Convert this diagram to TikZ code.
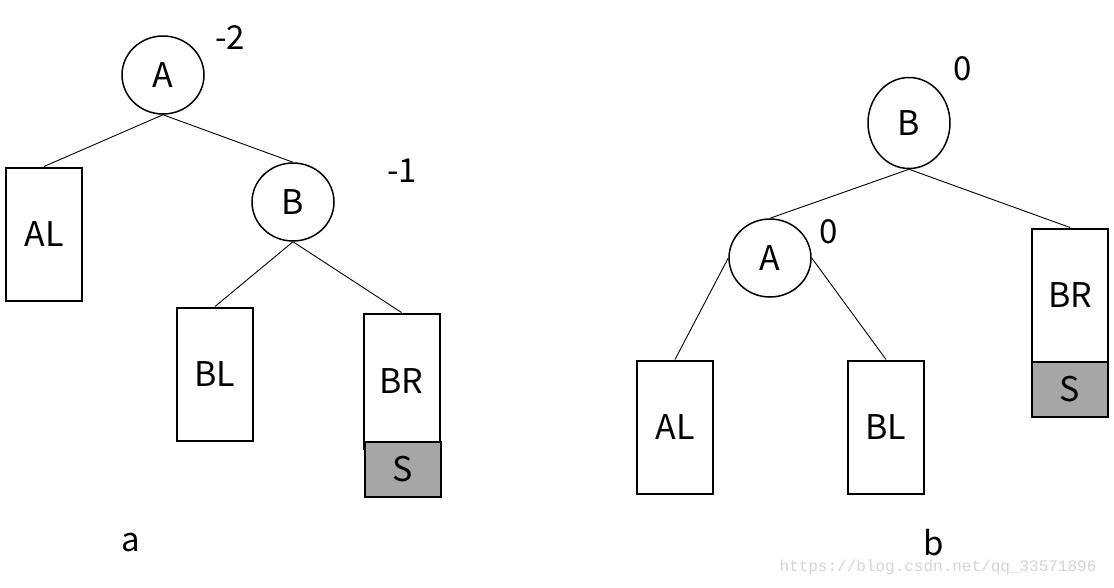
\documentclass[tikz,border=0pt]{standalone}
\usepackage{fontspec}
\setmainfont{Noto Sans CJK SC}
\setmonofont{Liberation Mono}
\usepackage{xcolor}
\usepackage{tikz}
\usetikzlibrary{positioning}
\usetikzlibrary{shapes.geometric}
\definecolor{insgray}{HTML}{A6A6A6}
\definecolor{markgray}{HTML}{D4D4D4}

\begin{document}
\begin{tikzpicture}[x=1pt, y=-1pt,
    tnode/.style={ellipse, draw, line width=1.5pt, minimum width=82pt,
        minimum height=78pt, inner sep=0pt, font=\fontsize{34}{34}\selectfont},
    sub/.style={rectangle, draw, line width=2pt, minimum width=76pt,
        minimum height=133pt, inner sep=0pt, font=\fontsize{34}{34}\selectfont},
    ins/.style={sub, minimum height=55pt, fill=insgray},
    bal/.style={inner sep=0pt, font=\fontsize{33}{33}\selectfont},
    edge/.style={line width=0.9pt}]

                \useasboundingbox (0,0) rectangle (1114,587);

                % tree a: before the rotation
                \begin{scope}
                    \node[tnode] (aA) at (163, 75) {A};
                    \node[tnode] (aB) at (293, 202) {B};
                    \node[sub] (aAL) at (44, 234) {AL};
                    \node[sub] (aBL) at (215, 374) {BL};
                    \node[sub, minimum height=135pt] (aBR) at (401.5, 381) {BR};
                    \node[ins] (aS) [below=-9pt of aBR, xshift=1.5pt] {S};
                    \node[bal] (aA-bal) at (230, 38) {-2};
                    \node[bal] (aB-bal) at (402, 171) {-1};
                    \node[bal] (a-cap) at (131, 543) {a};
                \end{scope}

                % tree b: after the rotation
                \begin{scope}
                    \node[tnode, minimum height=91pt] (bB) at (909, 123) {B};
                    \node[tnode] (bA) at (770, 258) {A};
                    \node[sub] (bAL) at (675, 427) {AL};
                    \node[sub] (bBL) at (886, 427) {BL};
                    \node[sub] (bBR) at (1070, 295) {BR};
                    \node[ins] (bS) [below=-2pt of bBR] {S};
                    \node[bal] (bB-bal) at (963, 69) {0};
                    \node[bal] (bA-bal) at (829, 232) {0};
                    \node[bal] (b-cap) at (934, 543) {b};
                \end{scope}

                \node[font=\fontsize{16}{16}\selectfont\ttfamily, text=markgray]
                    (mark) at (938, 567) {https://blog.csdn.net/qq\_33571896};

                \begin{scope}[edge]
                    \draw (aA.south) -- (aAL.north);
                    \draw (aA.south) -- (aB.north);
                    \draw (aB.south) -- (aBL.north);
                    \draw (aB.south) -- (aBR.north);
                    \draw (bB.south) -- (bA.north);
                    \draw (bB.south) -- (bBR.north);
                    \draw (bA.west) -- (bAL.north);
                    \draw (bA.east) -- (bBL.north);
                \end{scope}

\end{tikzpicture}
\end{document}
